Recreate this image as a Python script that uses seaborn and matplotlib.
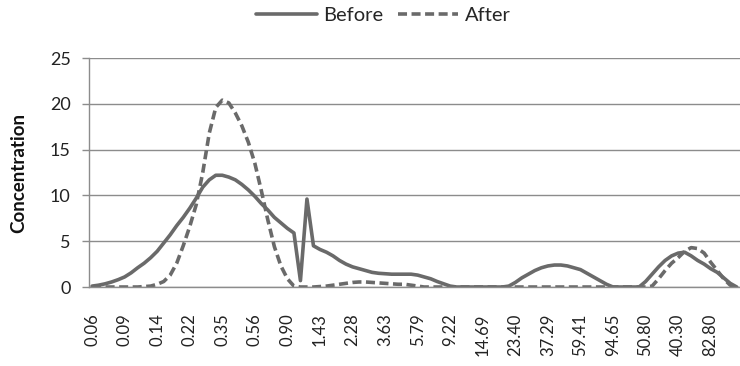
import numpy as np
import pandas as pd
import matplotlib
matplotlib.use("Agg")
import matplotlib.pyplot as plt
import seaborn as sns
from matplotlib.lines import Line2D

# ---- data ----
tick_labels = ["0.06", "0.09", "0.14", "0.22", "0.35", "0.56", "0.90", "1.43", "2.28", "3.63",
               "5.79", "9.22", "14.69", "23.40", "37.29", "59.41", "94.65", "50.80", "40.30", "82.80"]

before = [0.1, 0.2, 0.35, 0.55, 0.8, 1.1, 1.55, 2.1, 2.6, 3.2,
          3.9, 4.8, 5.7, 6.7, 7.6, 8.6, 9.7, 10.9, 11.7, 12.2,
          12.2, 12.0, 11.7, 11.2, 10.6, 9.9, 9.1, 8.4, 7.6, 7.0,
          6.4, 5.9, 0.7, 9.6, 4.5, 4.1, 3.8, 3.4, 2.9, 2.5,
          2.2, 2.0, 1.8, 1.6, 1.5, 1.45, 1.4, 1.4, 1.4, 1.4,
          1.3, 1.1, 0.9, 0.6, 0.35, 0.1, 0.0, 0.0, 0.0, 0.0,
          0.0, 0.0, 0.0, 0.0, 0.1, 0.5, 1.0, 1.4, 1.8, 2.1,
          2.3, 2.4, 2.4, 2.3, 2.1, 1.9, 1.5, 1.1, 0.7, 0.3,
          0.0, 0.0, 0.0, 0.0, 0.0, 0.6, 1.4, 2.2, 2.9, 3.4,
          3.7, 3.8, 3.4, 2.9, 2.5, 2.0, 1.6, 1.0, 0.4, 0.0]

after = [0.0, 0.0, 0.0, 0.0, 0.0, 0.0, 0.0, 0.0, 0.05, 0.1,
         0.3, 0.6, 1.3, 2.6, 4.5, 6.6, 9.0, 12.5, 16.8, 19.6,
         20.4, 20.1, 19.0, 17.6, 15.8, 13.5, 10.5, 7.3, 4.4, 2.3,
         0.9, 0.1, 0.0, 0.0, 0.0, 0.05, 0.1, 0.2, 0.3, 0.4,
         0.5, 0.55, 0.55, 0.5, 0.45, 0.4, 0.35, 0.3, 0.3, 0.2,
         0.1, 0.0, 0.0, 0.0, 0.0, 0.0, 0.0, 0.0, 0.0, 0.0,
         0.0, 0.0, 0.0, 0.0, 0.0, 0.0, 0.0, 0.0, 0.0, 0.0,
         0.0, 0.0, 0.0, 0.0, 0.0, 0.0, 0.0, 0.0, 0.0, 0.0,
         0.0, 0.0, 0.0, 0.0, 0.0, 0.0, 0.1, 0.9, 1.8, 2.6,
         3.2, 3.9, 4.3, 4.2, 3.7, 2.7, 1.8, 0.9, 0.2, 0.0]

series_names = ["Before", "After"]
label_step = 5

# ---- build long-form table ----
n = len(before)
df = pd.DataFrame({
    "idx": np.concatenate([np.arange(n), np.arange(n)]),
    "value": before + after,
    "series": ["Before"] * n + ["After"] * n,
})

sns.set_theme(style="white")
plt.rcParams["font.family"] = ["Lato", "DejaVu Sans"]

fig = plt.figure(figsize=(7.4, 3.66), dpi=100)
ax = fig.add_axes([0.12, 0.2158, 0.88, 0.6257])

line_color = "#6a6a6a"
dash = (2.5, 1.25)
sns.lineplot(data=df, x="idx", y="value", hue="series", style="series",
             hue_order=series_names, style_order=series_names,
             palette={"Before": line_color, "After": line_color},
             dashes={"Before": "", "After": dash},
             linewidth=2.6, ax=ax, legend=False)

ax.set_xlim(-0.5, n - 0.5)
ax.set_ylim(0, 25)
ax.set_yticks([0, 5, 10, 15, 20, 25])
ax.yaxis.grid(True, color="#8c8c8c", linewidth=1.0)
ax.set_axisbelow(True)

ax.set_xticks(np.arange(0, n, label_step)[:len(tick_labels)])
ax.set_xticklabels(tick_labels, rotation=90, fontsize=12, color="#222222")
ax.tick_params(axis="y", labelsize=13, labelcolor="#222222", length=5,
               color="#8c8c8c", width=1.0, pad=8, left=True)
ax.tick_params(axis="x", length=0, pad=19)

for side in ["top", "right"]:
    ax.spines[side].set_visible(False)
for side in ["left", "bottom"]:
    ax.spines[side].set_color("#8c8c8c")
    ax.spines[side].set_linewidth(1.0)

ax.set_xlabel("")
ax.set_ylabel("Concentration", fontsize=13.5, fontweight="bold", color="#111111")
ax.yaxis.set_label_coords(-0.095, 0.5)

handles = [Line2D([0], [0], color=line_color, lw=2.6, linestyle="-"),
           Line2D([0], [0], color=line_color, lw=2.6, linestyle=(0, dash))]
fig.legend(handles, series_names, loc="center", bbox_to_anchor=(0.518, 0.959), ncol=2,
           frameon=False, fontsize=14.5, handlelength=3.0, columnspacing=0.75,
           handletextpad=0.3, borderpad=0.0)

fig.savefig("out.png", dpi=100)
